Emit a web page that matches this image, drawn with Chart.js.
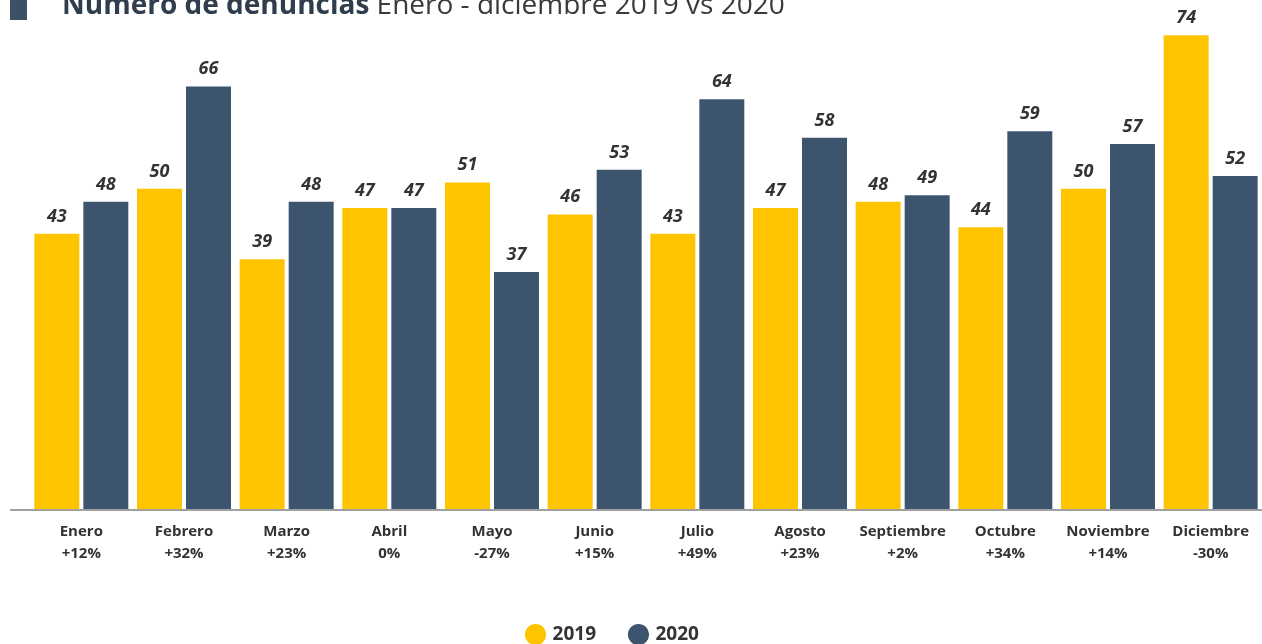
<!DOCTYPE html>
<html>
<head>
<meta charset="utf-8">
<script src="https://cdn.jsdelivr.net/npm/chart.js@4"></script>
<style>
  html, body { margin: 0; padding: 0; background: #fff; overflow: hidden; }
  #wrap { position: relative; width: 1262px; height: 644px; }
  #title {
    position: absolute; left: 62px; top: -11px; margin: 0;
    font-family: 'Open Sans', sans-serif; font-size: 28px; line-height: 28px;
    color: #3a3a3a; white-space: nowrap; font-weight: 400; z-index: 2;
  }
  #title b { color: #2f3d4c; font-weight: 700; }
  #mark { position: absolute; left: 10px; top: 0; width: 17px; height: 20px; background: #3d5166; }
</style>
</head>
<body>
<div id="wrap">
  <div id="mark"></div>
  <h1 id="title"><b>Número de denuncias</b> Enero - diciembre 2019 vs 2020</h1>
  <canvas id="chart" width="1262" height="644"></canvas>
</div>
<script>
// month names + change 2019 -> 2020
const months = ['Enero', 'Febrero', 'Marzo', 'Abril', 'Mayo', 'Junio', 'Julio',
    'Agosto', 'Septiembre', 'Octubre', 'Noviembre', 'Diciembre'];
const changes = ['+12%', '+32%', '+23%', '0%', '-27%', '+15%', '+49%',
    '+23%', '+2%', '+34%', '+14%', '-30%'];
const values2019 = [43, 50, 39, 47, 51, 46, 43, 47, 48, 44, 50, 74];
const values2020 = [48, 66, 48, 47, 37, 53, 64, 58, 49, 59, 57, 52];

const YELLOW = '#ffc400';
const BLUE = '#3d546e';
const LEGEND_PAD = 35;

// value on top of every bar
const barValues = {
    id: 'barValues',
    afterDatasetsDraw(chart) {
        const ctx = chart.ctx;
        ctx.save();
        ctx.font = 'italic 700 18px "Open Sans"';
        ctx.fillStyle = '#333';
        ctx.textAlign = 'center';
        ctx.textBaseline = 'alphabetic';
        chart.data.datasets.forEach((ds, i) => {
            chart.getDatasetMeta(i).data.forEach((bar, j) => {
                ctx.fillText(ds.data[j], bar.x, bar.y - 12);
            });
        });
        ctx.restore();
    }
};

// baseline that runs a bit past the left of the bars
const baseLine = {
    id: 'baseLine',
    afterDatasetsDraw(chart) {
        const { ctx, chartArea } = chart;
        ctx.save();
        ctx.strokeStyle = '#a0a0a0';
        ctx.lineWidth = 2;
        ctx.beginPath();
        ctx.moveTo(10, chartArea.bottom + 1);
        ctx.lineTo(chartArea.right, chartArea.bottom + 1);
        ctx.stroke();
        ctx.restore();
    }
};

// legend sits a little left of the page centre in the original
const legendShift = {
    id: 'legendShift',
    afterLayout(chart) {
        const s = (30 + LEGEND_PAD) / 2;
        chart.legend.left -= s;
        chart.legend.right -= s;
    }
};

new Chart(document.getElementById('chart'), {
    type: 'bar',
    data: {
        labels: months.map((m, i) => [m, changes[i]]),
        datasets: [
            { label: '2019', data: values2019, backgroundColor: YELLOW },
            { label: '2020', data: values2020, backgroundColor: BLUE },
        ],
    },
    options: {
        responsive: false,
        animation: false,
        categoryPercentage: 0.9545,
        barPercentage: 0.918,
        layout: { padding: { left: 30, right: 0, top: 0, bottom: -10 } },
        scales: {
            x: {
                grid: { display: false },
                border: { display: false },
                ticks: {
                    color: '#333',
                    font: { family: 'Open Sans', size: 15, weight: '700', lineHeight: 1.5 },
                    padding: 3,
                    maxRotation: 0,
                    autoSkip: false,
                },
                afterFit(scale) { scale.height = 81; },
            },
            y: {
                display: false,
                min: 0,
                max: 79.5,
            },
        },
        plugins: {
            legend: {
                position: 'bottom',
                labels: {
                    usePointStyle: true,
                    pointStyle: 'circle',
                    boxWidth: 15,
                    boxHeight: 15,
                    padding: LEGEND_PAD,
                    color: '#333',
                    font: { family: 'Open Sans', size: 19, weight: '700' },
                },
            },
            tooltip: { enabled: false },
        },
    },
    plugins: [barValues, baseLine, legendShift],
});
</script>
</body>
</html>
